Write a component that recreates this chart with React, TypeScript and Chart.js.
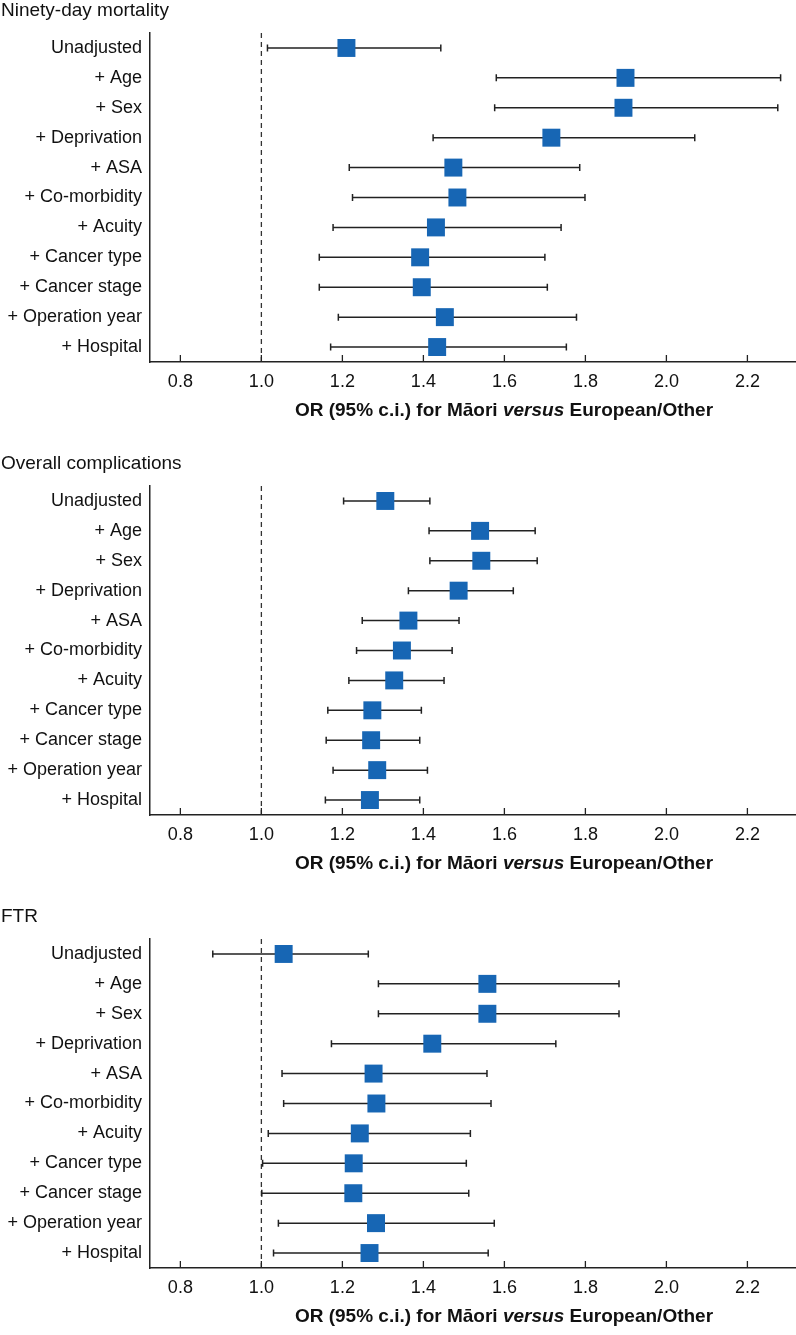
import React, { useEffect, useRef } from 'react';
import { Chart, registerables } from 'chart.js';

Chart.register(...registerables);

const categories = [
  'Unadjusted',
  '+ Age',
  '+ Sex',
  '+ Deprivation',
  '+ ASA',
  '+ Co-morbidity',
  '+ Acuity',
  '+ Cancer type',
  '+ Cancer stage',
  '+ Operation year',
  '+ Hospital',
];

const xTicks = [0.8, 1.0, 1.2, 1.4, 1.6, 1.8, 2.0, 2.2];

const mortalityOR = [1.21, 1.899, 1.894, 1.716, 1.474, 1.484, 1.431, 1.392, 1.396, 1.453, 1.434];
const mortalityLo = [1.015, 1.58, 1.576, 1.424, 1.217, 1.225, 1.177, 1.143, 1.143, 1.19, 1.171];
const mortalityHi = [1.443, 2.282, 2.275, 2.07, 1.786, 1.799, 1.74, 1.7, 1.706, 1.778, 1.753];

const complicationsOR = [1.306, 1.54, 1.543, 1.487, 1.363, 1.347, 1.328, 1.274, 1.271, 1.286, 1.268];
const complicationsLo = [1.203, 1.414, 1.416, 1.363, 1.249, 1.235, 1.216, 1.164, 1.16, 1.177, 1.158];
const complicationsHi = [1.416, 1.676, 1.681, 1.622, 1.488, 1.471, 1.451, 1.395, 1.391, 1.41, 1.391];

const ftrOR = [1.055, 1.558, 1.558, 1.422, 1.277, 1.284, 1.243, 1.228, 1.227, 1.283, 1.267];
const ftrLo = [0.88, 1.289, 1.289, 1.173, 1.051, 1.055, 1.017, 1.003, 1.001, 1.042, 1.03];
const ftrHi = [1.264, 1.883, 1.883, 1.727, 1.557, 1.567, 1.516, 1.506, 1.512, 1.575, 1.56];

const FONT = '"Liberation Sans", Arial, Helvetica, sans-serif';
const TEXT = '#111111';
const LINE = '#222222';
const BLUE = '#1766b4';

type PanelProps = {
  title: string;
  or: number[];
  lo: number[];
  hi: number[];
  height: number;
};

function ForestPanel({ title, or, lo, hi, height }: PanelProps) {
  const ref = useRef<HTMLCanvasElement>(null);

  useEffect(() => {
    if (!ref.current) return;
    const TOP = 33;
    const PLOT_H = 329;

    const decorations = {
      id: 'decorations',
      beforeDatasetsDraw(chart: any) {
        const ctx = chart.ctx;
        const xs = chart.scales.x;
        const ys = chart.scales.y;
        const area = chart.chartArea;
        ctx.save();
        // reference line at OR = 1
        ctx.strokeStyle = '#333';
        ctx.lineWidth = 1.3;
        ctx.setLineDash([5, 4]);
        const x1 = xs.getPixelForValue(1.0);
        ctx.beginPath();
        ctx.moveTo(x1, area.top);
        ctx.lineTo(x1, area.bottom);
        ctx.stroke();
        ctx.setLineDash([]);
        // confidence intervals
        ctx.strokeStyle = LINE;
        ctx.lineWidth = 1.5;
        categories.forEach((c, i) => {
          const y = ys.getPixelForValue(i);
          const a = xs.getPixelForValue(lo[i]);
          const b = xs.getPixelForValue(hi[i]);
          ctx.beginPath();
          ctx.moveTo(a, y);
          ctx.lineTo(b, y);
          ctx.moveTo(a, y - 3.5);
          ctx.lineTo(a, y + 3.5);
          ctx.moveTo(b, y - 3.5);
          ctx.lineTo(b, y + 3.5);
          ctx.stroke();
        });
        ctx.restore();
      },
      afterDraw(chart: any) {
        const ctx = chart.ctx;
        const xs = chart.scales.x;
        const area = chart.chartArea;
        ctx.save();
        // inward tick marks
        ctx.strokeStyle = LINE;
        ctx.lineWidth = 1.3;
        xTicks.forEach((v) => {
          const px = xs.getPixelForValue(v);
          ctx.beginPath();
          ctx.moveTo(px, area.bottom);
          ctx.lineTo(px, area.bottom - 7);
          ctx.stroke();
        });
        // panel title
        ctx.fillStyle = TEXT;
        ctx.font = `19px ${FONT}`;
        ctx.textAlign = 'left';
        ctx.textBaseline = 'alphabetic';
        ctx.fillText(title, 1, 16);
        // axis title with italic "versus"
        const parts = [
          { t: 'OR (95% c.i.) for Māori ', f: `bold 19px ${FONT}` },
          { t: 'versus', f: `italic bold 19px ${FONT}` },
          { t: ' European/Other', f: `bold 19px ${FONT}` },
        ];
        let total = 0;
        const widths = parts.map((p) => {
          ctx.font = p.f;
          const w = ctx.measureText(p.t).width;
          total += w;
          return w;
        });
        let x = area.left + 354 - total / 2;
        const yb = area.bottom + 54;
        parts.forEach((p, i) => {
          ctx.font = p.f;
          ctx.fillText(p.t, x, yb);
          x += widths[i];
        });
        ctx.restore();
      },
    };

    const chart = new Chart(ref.current, {
      type: 'scatter',
      data: {
        labels: categories,
        datasets: [
          {
            data: categories.map((c, i) => ({ x: or[i], y: c })) as any,
            pointStyle: 'rect',
            pointRadius: 12.7,
            pointHoverRadius: 12.7,
            backgroundColor: BLUE,
            borderWidth: 0,
            clip: false,
          },
        ],
      },
      options: {
        animation: false,
        responsive: false,
        maintainAspectRatio: false,
        events: [],
        layout: { autoPadding: false, padding: { top: TOP, left: 0, right: 0, bottom: 0 } },
        plugins: {
          legend: { display: false },
          tooltip: { enabled: false },
          title: { display: false },
        },
        scales: {
          x: {
            type: 'linear',
            min: 0.725,
            max: 2.32,
            afterBuildTicks: (s: any) => {
              s.ticks = xTicks.map((v) => ({ value: v }));
            },
            afterFit: (s: any) => {
              s.height = height - TOP - PLOT_H;
              s.paddingLeft = 0;
              s.paddingRight = 0;
            },
            grid: { display: false, drawTicks: false },
            border: { display: true, color: LINE, width: 1.5 },
            ticks: {
              font: { family: FONT, size: 18 },
              color: TEXT,
              padding: 9,
              autoSkip: false,
              maxRotation: 0,
              callback: (v: any) => Number(v).toFixed(1),
            },
          },
          y: {
            type: 'category',
            labels: categories,
            offset: true,
            afterFit: (s: any) => {
              s.width = 150;
              s.paddingTop = 0;
              s.paddingBottom = 0;
            },
            grid: { display: false, drawTicks: false },
            border: { display: true, color: LINE, width: 1.5 },
            ticks: {
              font: { family: FONT, size: 18 },
              color: TEXT,
              padding: 8,
              autoSkip: false,
            },
          },
        },
      } as any,
      plugins: [decorations],
    });
    return () => chart.destroy();
  }, [title, or, lo, hi, height]);

  return (
    <canvas
      ref={ref}
      width={796}
      height={height}
      style={{ display: 'block', width: 796, height }}
    />
  );
}

export default function App() {
  useEffect(() => {
    document.body.style.margin = '0';
  }, []);
  return (
    <div style={{ width: 796, background: '#ffffff' }}>
      <ForestPanel title="Ninety-day mortality" or={mortalityOR} lo={mortalityLo} hi={mortalityHi} height={453} />
      <ForestPanel title="Overall complications" or={complicationsOR} lo={complicationsLo} hi={complicationsHi} height={453} />
      <ForestPanel title="FTR" or={ftrOR} lo={ftrLo} hi={ftrHi} height={429} />
    </div>
  );
}
